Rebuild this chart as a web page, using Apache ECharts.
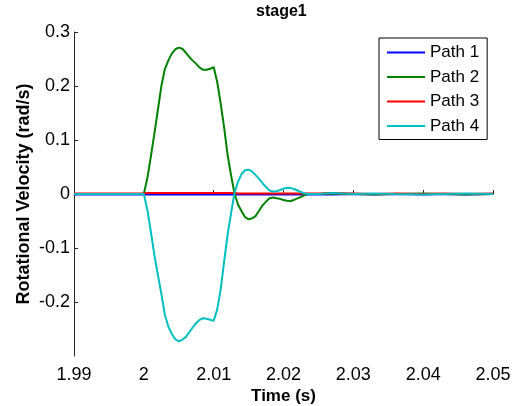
<!DOCTYPE html>
<html>
<head>
<meta charset="utf-8">
<script src="https://cdn.jsdelivr.net/npm/echarts@6/dist/echarts.min.js"></script>
<style>
html,body{margin:0;padding:0;background:#fff;}
#chart{width:520px;height:406px;}
</style>
</head>
<body>
<div id="chart"></div>
<script>
// Time samples (s)
var times = [1.99, 1.992, 1.994, 1.996, 1.998,
  2.0, 2.0005, 2.001, 2.0015, 2.002, 2.0025, 2.003, 2.0035, 2.004, 2.0045,
  2.005, 2.0055, 2.006, 2.0065, 2.007, 2.0075, 2.008, 2.0085, 2.009, 2.0095,
  2.01, 2.0105, 2.011, 2.0115, 2.012, 2.0125, 2.013, 2.0135, 2.014, 2.0145,
  2.015, 2.0155, 2.016, 2.0165, 2.017, 2.0175, 2.018, 2.0185, 2.019, 2.0195,
  2.02, 2.0205, 2.021, 2.0215, 2.022, 2.0225, 2.023, 2.0235, 2.024,
  2.025, 2.027, 2.03, 2.033, 2.036, 2.04, 2.043, 2.046, 2.05];

var path1 = [-0.001, -0.001, -0.001, -0.001, -0.001,
  -0.001, -0.001, -0.001, -0.001, -0.001, -0.001, -0.001, -0.001, -0.001, -0.001,
  -0.001, -0.001, -0.001, -0.001, -0.001, -0.001, -0.001, -0.001, -0.001, -0.001,
  -0.001, -0.001, -0.001, -0.001, -0.001, -0.001, -0.001, -0.001, -0.001, -0.001,
  -0.001, -0.001, -0.001, -0.001, -0.001, -0.001, -0.001, -0.001, -0.001, -0.001,
  -0.001, -0.001, -0.001, -0.001, -0.001, -0.001, -0.001, -0.001, -0.001,
  -0.001, -0.001, 0, -0.001, 0, -0.001, 0, -0.001, 0];

var path2 = [0, 0, 0, 0, 0,
  0, 0.029, 0.069, 0.111, 0.155, 0.199, 0.231, 0.247, 0.260, 0.268,
  0.271, 0.269, 0.262, 0.254, 0.247, 0.241, 0.234, 0.230, 0.230, 0.232,
  0.235, 0.208, 0.168, 0.123, 0.072, 0.034, 0.000, -0.020, -0.032, -0.043,
  -0.047, -0.045, -0.041, -0.031, -0.021, -0.014, -0.008, -0.0065, -0.008, -0.009,
  -0.011, -0.0125, -0.013, -0.011, -0.008, -0.0055, -0.002, 0, 0,
  0, 0.001, 0, -0.001, 0, 0.001, 0, -0.001, 0];

var path3 = [0.001, 0.001, 0.001, 0.001, 0.001,
  0.001, 0.002, 0.002, 0.002, 0.002, 0.002, 0.002, 0.002, 0.002, 0.002,
  0.002, 0.002, 0.002, 0.002, 0.002, 0.002, 0.002, 0.002, 0.002, 0.002,
  0.002, 0.002, 0.002, 0.002, 0.002, 0.002, 0.002, 0.001, 0.001, 0.001,
  0.001, 0.001, 0.001, 0.001, 0.001, 0.001, 0.001, 0.001, 0.001, 0.001,
  0.001, 0.001, 0.001, 0.001, 0.001, 0.001, 0.001, 0.001, 0.001,
  0.001, 0.002, 0.001, 0, 0.001, 0, 0.001, 0, 0.001];

var path4 = [0, 0, 0, 0, 0,
  0, -0.029, -0.069, -0.112, -0.149, -0.184, -0.223, -0.245, -0.259, -0.269,
  -0.273, -0.270, -0.265, -0.256, -0.247, -0.239, -0.233, -0.230, -0.231, -0.233,
  -0.235, -0.214, -0.177, -0.125, -0.075, -0.035, 0.003, 0.023, 0.037, 0.044,
  0.045, 0.042, 0.035, 0.028, 0.020, 0.013, 0.0065, 0.0046, 0.005, 0.0074,
  0.010, 0.0115, 0.011, 0.0093, 0.0065, 0.0037, 0.001, 0, 0,
  0, 0.002, 0, 0.001, 0, -0.001, 0, 0.001, 0];

var seriesNames = ['Path 1', 'Path 2', 'Path 3', 'Path 4'];
var seriesColors = ['#0000ff', '#008000', '#ff0000', '#00bfbf'];
var seriesValues = [path1, path2, path3, path4];

function pairs(vals) {
  return times.map(function (t, i) { return [t, vals[i]]; });
}

var FONT = '"Liberation Sans", Arial, sans-serif';
var chart = echarts.init(document.getElementById('chart'), null, {renderer: 'canvas'});

var option = {
  animation: false,
  backgroundColor: '#ffffff',
  title: {
    text: 'stage1',
    left: 256, top: 4, padding: 0,
    textStyle: {fontFamily: FONT, fontSize: 16, fontWeight: 'bold', color: '#000'}
  },
  grid: {left: 74, right: 27, top: 32, bottom: 50, containLabel: false, outerBoundsMode: 'none'},
  legend: {
    orient: 'vertical',
    left: 379, top: 38,
    padding: [6, 8, 5, 8],
    icon: 'rect',
    itemWidth: 38, itemHeight: 2, itemGap: 7.5,
    backgroundColor: '#fff',
    borderColor: '#000', borderWidth: 1, borderRadius: 0,
    textStyle: {fontFamily: FONT, fontSize: 17, color: '#000', lineHeight: 17},
    data: seriesNames
  },
  xAxis: {
    type: 'value', min: 1.99, max: 2.05, interval: 0.01,
    name: 'Time (s)', nameLocation: 'middle', nameGap: 32, nameMoveOverlap: false,
    nameTextStyle: {fontFamily: FONT, fontSize: 17, fontWeight: 'bold', color: '#000'},
    axisLine: {show: true, lineStyle: {color: '#262626', width: 1}},
    axisTick: {show: true, inside: true, length: 4, lineStyle: {color: '#262626'}},
    axisLabel: {
      fontFamily: FONT, fontSize: 18, color: '#000', margin: 10,
      formatter: function (v) { return String(+v.toFixed(2)); }
    },
    splitLine: {show: false}
  },
  yAxis: {
    type: 'value', min: -0.3, max: 0.3, interval: 0.1,
    name: 'Rotational Velocity (rad/s)', nameLocation: 'middle', nameGap: 41, nameMoveOverlap: false,
    nameTextStyle: {fontFamily: FONT, fontSize: 18, fontWeight: 'bold', color: '#000'},
    axisLine: {show: true, lineStyle: {color: '#262626', width: 1}},
    axisTick: {show: true, inside: true, length: 4, lineStyle: {color: '#262626'}},
    axisLabel: {
      fontFamily: FONT, fontSize: 18, color: '#000', margin: 4,
      showMinLabel: false,
      formatter: function (v) { return String(+v.toFixed(2)); }
    },
    splitLine: {show: false}
  },
  series: seriesNames.map(function (n, i) {
    return {
      name: n, type: 'line', symbol: 'none', showSymbol: false,
      data: pairs(seriesValues[i]),
      lineStyle: {color: seriesColors[i], width: 2},
      itemStyle: {color: seriesColors[i]}
    };
  })
};
chart.setOption(option);
</script>
</body>
</html>
